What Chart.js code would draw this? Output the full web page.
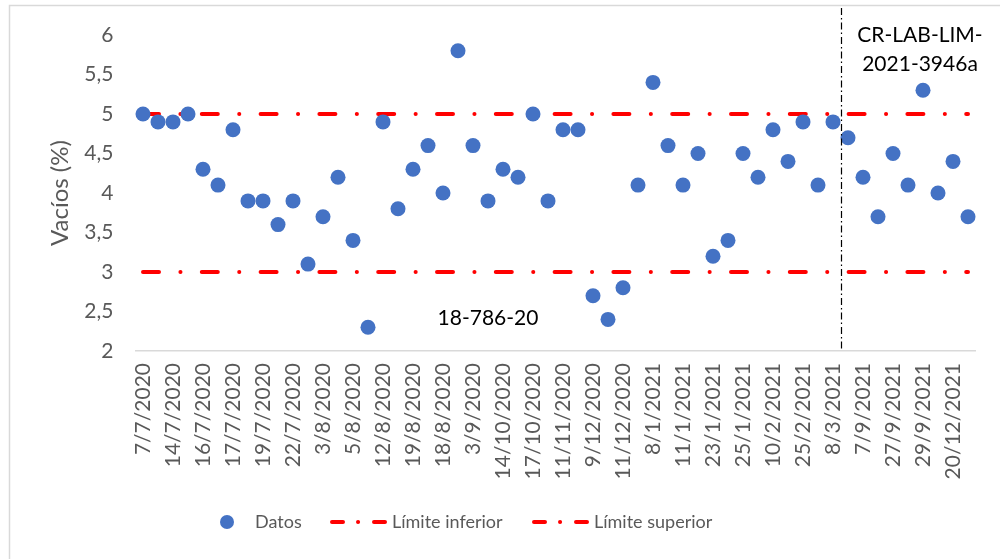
<!DOCTYPE html>
<html>
<head>
<meta charset="utf-8">
<script src="https://cdn.jsdelivr.net/npm/chart.js@4"></script>
<style>
	body { margin: 0; background: #fff; }
	.chart-box { width: 1000px; height: 559px; }
</style>
</head>
<body>
<div class="chart-box"><canvas id="myChart"></canvas></div>
<script>
const ctx = document.getElementById('myChart');

// etiquetas visibles del eje x (una cada dos muestras)
const fechas = ['7/7/2020', '14/7/2020', '16/7/2020', '17/7/2020', '19/7/2020', '22/7/2020', '3/8/2020',
	'5/8/2020', '12/8/2020', '19/8/2020', '18/8/2020', '3/9/2020', '14/10/2020', '17/10/2020',
	'11/11/2020', '9/12/2020', '11/12/2020', '8/1/2021', '11/1/2021', '23/1/2021', '25/1/2021',
	'10/2/2021', '25/2/2021', '8/3/2021', '7/9/2021', '27/9/2021', '29/9/2021', '20/12/2021'];

const vacios = [5.0, 4.9, 4.9, 5.0, 4.3, 4.1, 4.8, 3.9, 3.9, 3.6, 3.9, 3.1, 3.7, 4.2, 3.4, 2.3,
	4.9, 3.8, 4.3, 4.6, 4.0, 5.8, 4.6, 3.9, 4.3, 4.2, 5.0, 3.9, 4.8, 4.8, 2.7, 2.4,
	2.8, 4.1, 5.4, 4.6, 4.1, 4.5, 3.2, 3.4, 4.5, 4.2, 4.8, 4.4, 4.9, 4.1, 4.9, 4.7,
	4.2, 3.7, 4.5, 4.1, 5.3, 4.0, 4.4, 3.7];

const limiteInferior = 3;
const limiteSuperior = 5;
const yTicks = [2, 2.5, 3, 3.5, 4, 4.5, 5, 5.5, 6];

// separacion entre las dos series de muestras (entre 8/3/2021 y la siguiente)
const corte = 46.5;
const notas = [
	{ text: '18-786-20', x: 23, y: 2.42 },
	{ text: 'CR-LAB-LIM-', x: 51.8, y: 6.0 },
	{ text: '2021-3946a', x: 51.8, y: 5.63 },
];

const labels = vacios.map((v, i) => i % 2 === 0 ? fechas[i / 2] : '');

const FONT = 'Lato, "Open Sans", sans-serif';
const GRIS = '#595959';
const AZUL = '#4472C4';
const ROJO = '#FF0000';
const guion = [16, 21.4, 0.1, 21.3];

const dataDatos = {
	type: 'line',
	label: 'Datos',
	data: vacios,
	showLine: false,
	pointRadius: 7.5,
	pointHoverRadius: 7.5,
	pointBackgroundColor: AZUL,
	pointBorderColor: AZUL,
	pointBorderWidth: 0,
	order: 0,
};

const dataInferior = {
	type: 'line',
	label: 'Límite inferior',
	data: labels.map(() => limiteInferior),
	borderColor: ROJO,
	borderWidth: 4,
	borderDash: guion,
	borderCapStyle: 'round',
	pointRadius: 0,
	order: 1,
};

const dataSuperior = {
	type: 'line',
	label: 'Límite superior',
	data: labels.map(() => limiteSuperior),
	borderColor: ROJO,
	borderWidth: 4,
	borderDash: guion,
	borderCapStyle: 'round',
	pointRadius: 0,
	order: 1,
};

const extras = {
	id: 'extras',
	beforeDraw(chart) {
		const c = chart.ctx;
		c.save();
		c.fillStyle = '#fff';
		c.fillRect(0, 0, chart.width, chart.height);
		c.strokeStyle = '#d9d9d9';
		c.lineWidth = 1.5;
		c.strokeRect(9.5, 5.5, chart.width + 10, chart.height + 10);
		c.restore();
	},
	afterDraw(chart) {
		const c = chart.ctx;
		const x = chart.scales.x;
		const y = chart.scales.y;
		c.save();
		// linea vertical
		const xc = Math.round(x.getPixelForValue(corte)) + 0.5;
		c.strokeStyle = '#000';
		c.lineWidth = 1.2;
		c.setLineDash([7, 3, 1.5, 3]);
		c.beginPath();
		c.moveTo(xc, 8);
		c.lineTo(xc, y.bottom);
		c.stroke();
		c.setLineDash([]);

		// textos
		c.fillStyle = '#000';
		c.font = '21px ' + FONT;
		c.textAlign = 'center';
		c.textBaseline = 'middle';
		notas.forEach(n => {
			c.fillText(n.text, x.getPixelForValue(n.x), y.getPixelForValue(n.y));
		});

		// leyenda
		const ly = 522;
		c.font = '18px ' + FONT;
		c.textAlign = 'left';
		c.fillStyle = AZUL;
		c.beginPath();
		c.arc(227, ly, 7, 0, Math.PI * 2);
		c.fill();
		c.fillStyle = GRIS;
		c.fillText('Datos', 255, ly);
		[[330, 'Límite inferior', 392], [532, 'Límite superior', 594]].forEach(([sx, txt, tx]) => {
			c.strokeStyle = ROJO;
			c.lineWidth = 4;
			c.lineCap = 'round';
			c.beginPath();
			c.moveTo(sx + 2, ly); c.lineTo(sx + 13, ly);
			c.moveTo(sx + 28, ly); c.lineTo(sx + 28.1, ly);
			c.moveTo(sx + 44, ly); c.lineTo(sx + 55, ly);
			c.stroke();
			c.fillStyle = GRIS;
			c.fillText(txt, tx, ly);
		});
		c.restore();
	}
};

new Chart(ctx, {
	data: {
		labels: labels,
		datasets: [
			dataDatos,
			dataInferior,
			dataSuperior,
		],
	},
	plugins: [extras],
	options: {
		responsive: true,
		maintainAspectRatio: false,
		animation: false,
		layout: {
			padding: { top: 35, right: 24.5, bottom: 0, left: 0 }
		},
		plugins: {
			legend: false,
			tooltip: false
		},
		scales: {
			y: {
				min: 2,
				max: 6,
				afterFit: (scale) => { scale.width = 135.5; },
				afterBuildTicks: (scale) => { scale.ticks = yTicks.map(v => ({ value: v })); },
				grid: { display: false, drawTicks: false },
				border: { display: false },
				ticks: {
					color: GRIS,
					padding: 22,
					font: { family: FONT, size: 21 },
					callback: (v) => String(v).replace('.', ',')
				},
				title: {
					display: true,
					text: 'Vacíos (%)',
					color: GRIS,
					font: { family: FONT, size: 24 },
					padding: { top: 46, bottom: 0 }
				}
			},
			x: {
				offset: true,
				afterFit: (scale) => {
					scale.height = 208;
					scale.paddingLeft = 0;
					scale.paddingRight = 0;
				},
				grid: { display: false, drawTicks: false, offset: true },
				border: { display: true, color: '#d9d9d9', width: 1.5 },
				ticks: {
					color: GRIS,
					autoSkip: false,
					maxRotation: 90,
					minRotation: 90,
					padding: 12,
					font: { family: FONT, size: 21 }
				}
			}
		}
	}
});
</script>
</body>
</html>
